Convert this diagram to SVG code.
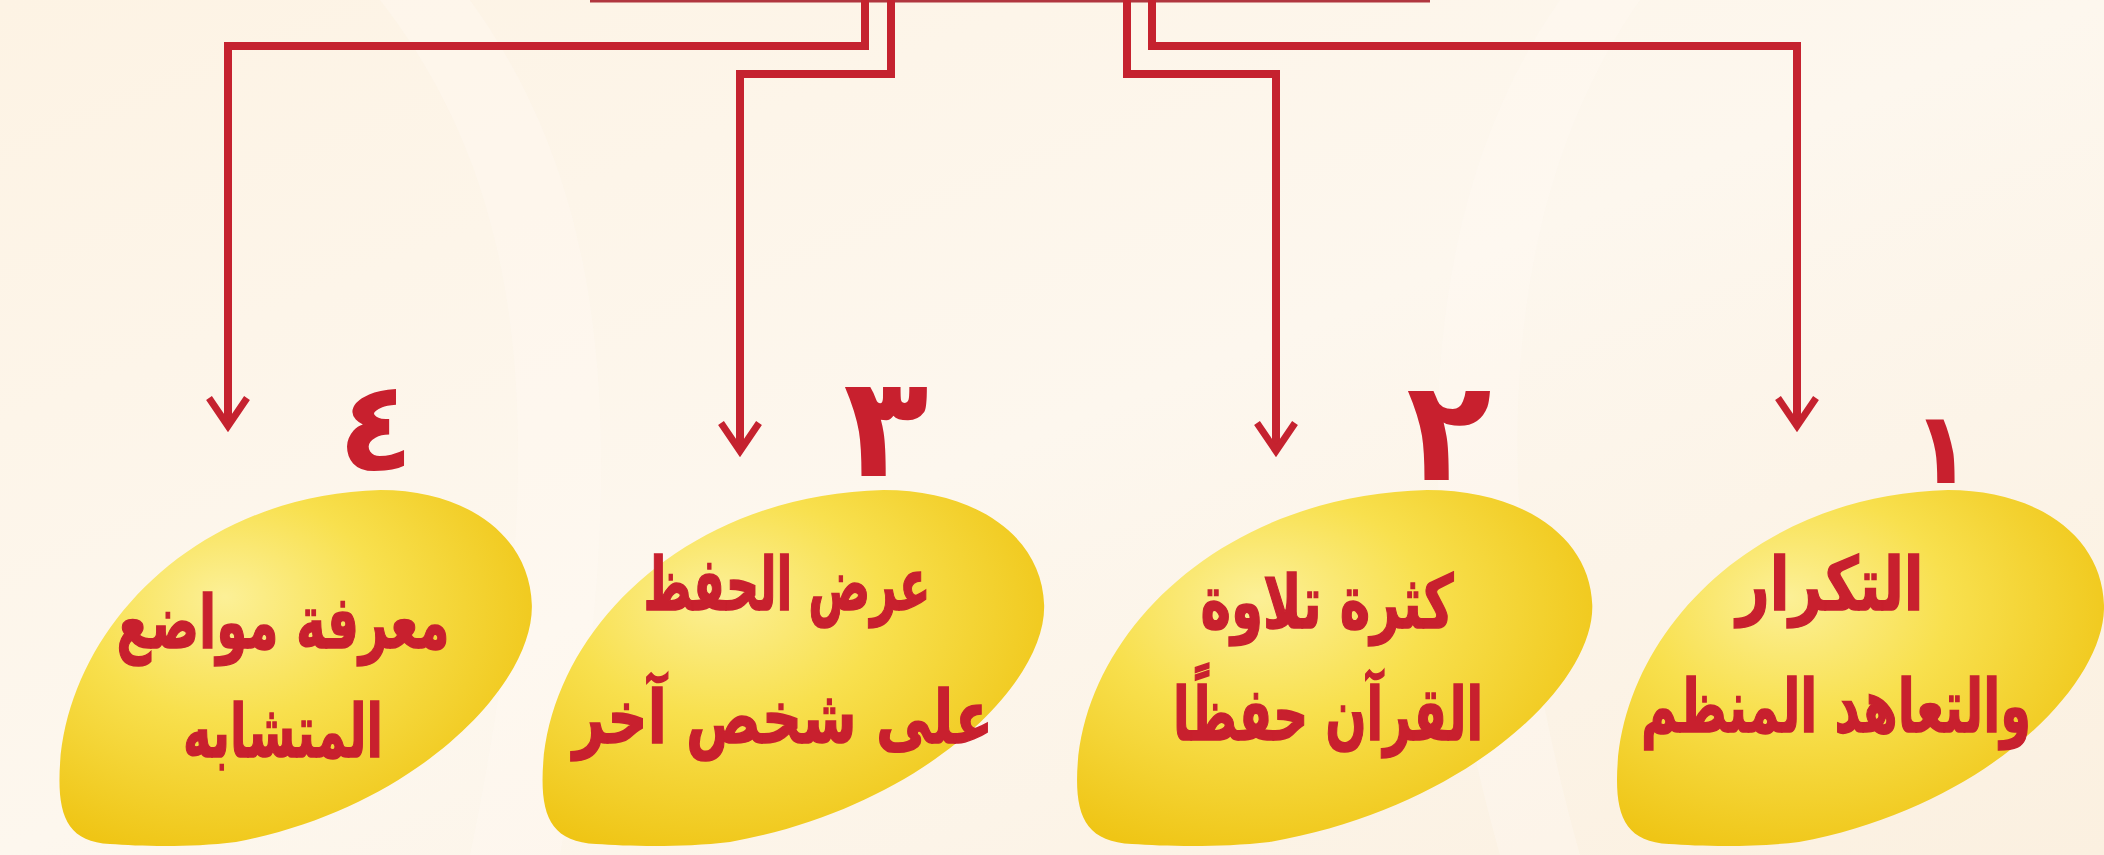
<svg xmlns="http://www.w3.org/2000/svg" width="2104" height="855" viewBox="0 0 2104 855">
<style>
.conn{fill:none;stroke:#c5222f;stroke-width:8;stroke-linejoin:miter;stroke-linecap:butt}
.lbl{font-family:'DejaVu Sans',sans-serif;font-weight:bold;font-size:74px;fill:#c8202e;stroke:#c8202e;stroke-width:1.5;text-anchor:middle}
.num{font-family:'DejaVu Sans',sans-serif;font-weight:bold;fill:#c8202e;text-anchor:middle}
.blob{fill:url(#gold)}
</style>
<defs>
<linearGradient id="bg" x1="0" y1="0" x2="1" y2="1">
<stop offset="0" stop-color="#fdf3e4"/>
<stop offset="0.5" stop-color="#fdf7ee"/>
<stop offset="1" stop-color="#fbf0e0"/>
</linearGradient>
<radialGradient id="gold" cx="0.38" cy="0.35" r="0.7" fx="0.35" fy="0.3">
<stop offset="0" stop-color="#fcf097"/>
<stop offset="0.45" stop-color="#f8e04e"/>
<stop offset="1" stop-color="#efc515"/>
</radialGradient>
<path id="blobShape" d="M349 0 C438 0 503 46 505 115 C507 195 385 318 200 352 C150 358 100 356 70 354 C30 352 18 330 18 290 C18 150 150 5 349 0 Z"/>
<marker id="arr" markerUnits="userSpaceOnUse" markerWidth="60" markerHeight="60" refX="0" refY="0" orient="auto" overflow="visible">
<path d="M-28 -19 L0 0 L-28 19" fill="none" stroke="#c5222f" stroke-width="7"/>
</marker>
</defs>
<rect x="0" y="0" width="2104" height="855" fill="url(#bg)"/>
<g id="background-swirls" opacity="0.35">
<path d="M380 0 C520 180 560 420 470 855 L560 855 C640 420 600 180 470 0 Z" fill="#fffaf3"/>
<path d="M1560 0 C1420 200 1400 500 1500 855 L1580 855 C1480 500 1500 200 1640 0 Z" fill="#fffaf3"/>
</g>
<line id="top-box-edge" x1="590" y1="1" x2="1430" y2="1" stroke="#b0363f" stroke-width="3"/>
<g id="connectors">
<path class="conn" d="M865 0 V46 H228 V426" marker-end="url(#arr)"/>
<path class="conn" d="M891 0 V74 H740 V451" marker-end="url(#arr)"/>
<path class="conn" d="M1127 0 V74 H1276 V451" marker-end="url(#arr)"/>
<path class="conn" d="M1152 0 V46 H1797 V426" marker-end="url(#arr)"/>
</g>
<g id="node4">
<use href="#blobShape" class="blob" transform="translate(42,490) scale(0.97,1)"/>
<text class="num" x="376" y="470" font-size="125">٤</text>
<text class="lbl" x="283" y="648" textLength="333" lengthAdjust="spacingAndGlyphs">معرفة مواضع</text>
<text class="lbl" x="283" y="757" textLength="200" lengthAdjust="spacingAndGlyphs">المتشابه</text>
</g>
<g id="node3">
<use href="#blobShape" class="blob" transform="translate(524,490) scale(1.03,1)"/>
<text class="num" x="886" y="476" font-size="140">٣</text>
<text class="lbl" x="787" y="610" textLength="287" lengthAdjust="spacingAndGlyphs">عرض الحفظ</text>
<text class="lbl" x="783" y="743" textLength="420" lengthAdjust="spacingAndGlyphs">على شخص آخر</text>
</g>
<g id="node2">
<use href="#blobShape" class="blob" transform="translate(1058,490) scale(1.058,1)"/>
<text class="num" x="1449" y="480" font-size="140">٢</text>
<text class="lbl" x="1327" y="628" textLength="253" lengthAdjust="spacingAndGlyphs">كثرة تلاوة</text>
<text class="lbl" x="1328" y="740" textLength="310" lengthAdjust="spacingAndGlyphs">القرآن حفظًا</text>
</g>
<g id="node1">
<use href="#blobShape" class="blob" transform="translate(1599,490)"/>
<text class="num" x="1942" y="483" font-size="100">١</text>
<text class="lbl" x="1830" y="610" textLength="187" lengthAdjust="spacingAndGlyphs">التكرار</text>
<text class="lbl" x="1836" y="732" textLength="390" lengthAdjust="spacingAndGlyphs">والتعاهد المنظم</text>
</g>
</svg>
